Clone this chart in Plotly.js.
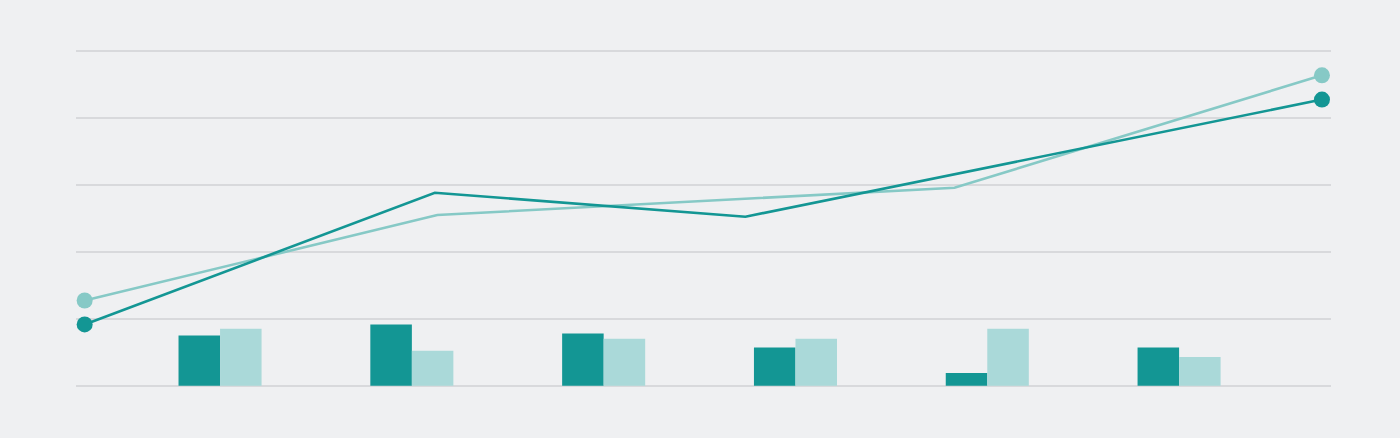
<!DOCTYPE html>
<html>
<head>
<meta charset="utf-8">
<script src="https://cdn.plot.ly/plotly-3.0.1.min.js"></script>
<style>html,body{margin:0;padding:0;background:#eff0f2;}#chart{width:1400px;height:438px;}</style>
</head>
<body>
<div id="chart"></div>
<script>
// Bar categories and series
const categories = ["1", "2", "3", "4", "5", "6"];
const barSeriesA = [7.5, 9.15, 7.8, 5.7, 1.9, 5.7];
const barSeriesB = [8.5, 5.2, 7.0, 7.0, 8.5, 4.3];

// Line series (positions along a 0-100 scale)
const lineAx = [0, 28.3, 53.4, 100];
const lineAy = [9.15, 28.85, 25.27, 42.79];
const lineBx = [0, 28.5, 70.3, 100];
const lineBy = [12.73, 25.52, 29.6, 46.42];

const dark = "#139694";
const lightBar = "#aad9d9";
const lightLine = "#86c9c6";

const traces = [
  {type: "bar", x: categories, y: barSeriesA, marker: {color: dark}, hoverinfo: "skip", xaxis: "x", yaxis: "y"},
  {type: "bar", x: categories, y: barSeriesB, marker: {color: lightBar}, hoverinfo: "skip", xaxis: "x", yaxis: "y"},
  {type: "scatter", mode: "lines", x: lineBx, y: lineBy, line: {color: lightLine, width: 2.6}, xaxis: "x2", yaxis: "y", hoverinfo: "skip"},
  {type: "scatter", mode: "lines", x: lineAx, y: lineAy, line: {color: dark, width: 2.6}, xaxis: "x2", yaxis: "y", hoverinfo: "skip"},
  {type: "scatter", mode: "markers", x: [lineBx[0], lineBx[lineBx.length-1]], y: [lineBy[0], lineBy[lineBy.length-1]], marker: {color: lightLine, size: 16}, xaxis: "x2", yaxis: "y", hoverinfo: "skip"},
  {type: "scatter", mode: "markers", x: [lineAx[0], lineAx[lineAx.length-1]], y: [lineAy[0], lineAy[lineAy.length-1]], marker: {color: dark, size: 16}, xaxis: "x2", yaxis: "y", hoverinfo: "skip"}
];

const layout = {
  width: 1400, height: 438,
  paper_bgcolor: "#eff0f2", plot_bgcolor: "#eff0f2",
  margin: {l: 76, r: 69, t: 38, b: 39},
  showlegend: false,
  barmode: "group", bargap: 0.567, bargroupgap: 0,
  xaxis: {type: "category", range: [-0.751, 5.792], showgrid: false, zeroline: false, showticklabels: false, ticks: "", showline: false},
  xaxis2: {overlaying: "x", range: [-0.7, 100.73], visible: false, showgrid: false, zeroline: false},
  yaxis: {range: [-2, 52], tickvals: [0, 10, 20, 30, 40, 50], showgrid: true, gridcolor: "#d8d9dc", gridwidth: 2, zeroline: false, showticklabels: false, ticks: "", showline: false}
};

Plotly.newPlot("chart", traces, layout, {displayModeBar: false, staticPlot: true});
</script>
</body>
</html>
